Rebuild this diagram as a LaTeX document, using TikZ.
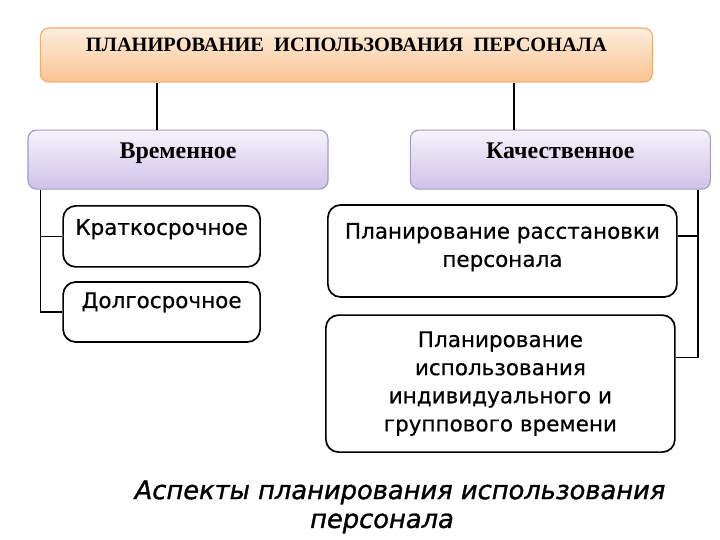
\documentclass[tikz,border=0pt]{standalone}
\usepackage{fontspec}
\setmainfont{Liberation Serif}
\newfontfamily\itemfont[FakeBold=0.5]{DejaVu Sans}
\newfontfamily\capfont[FakeBold=1.2]{DejaVu Sans}
\usetikzlibrary{positioning}
\definecolor{peachtop}{RGB}{253,237,220}
\definecolor{peachbot}{RGB}{250,196,146}
\definecolor{peachline}{RGB}{238,172,112}
\definecolor{lilactop}{RGB}{246,243,251}
\definecolor{lilacbot}{RGB}{206,194,232}
\definecolor{lilacline}{RGB}{165,154,198}
\tikzset{
  topbox/.style={draw=peachline, line width=0.8pt, rounded corners=6pt,
    top color=peachtop, bottom color=peachbot, inner sep=0pt,
    font=\bfseries\fontsize{14.5}{16}\selectfont},
  catbox/.style={draw=lilacline, line width=0.8pt, rounded corners=6pt,
    top color=lilactop, bottom color=lilacbot, inner sep=0pt,
    minimum width=7.5cm, font=\bfseries\fontsize{17}{19}\selectfont},
  itembox/.style={draw, line width=1.2pt, rounded corners=9pt, inner sep=0pt,
    align=center, font=\itemfont\fontsize{15.3}{20}\selectfont},
  link/.style={line width=0.8pt}
}
\begin{document}
\begin{tikzpicture}
  \useasboundingbox (0,0) rectangle (18,13.5);
  % Header
  \node[topbox, minimum width=15.3cm, text height=0.6cm, text depth=0.75cm]
    (plan) at (8.66,12.125) {ПЛАНИРОВАНИЕ \ ИСПОЛЬЗОВАНИЯ \ ПЕРСОНАЛА};
  % Two kinds of planning
  \node[catbox, text height=0.7cm, text depth=0.775cm] (vrem) at (4.45,9.51) {Временное};
  \node[catbox, text height=0.7cm, text depth=0.775cm] (kach) at (14.01,9.51) {Качественное};
  % Time-based items
  \node[itembox, minimum width=4.925cm, text height=0.725cm, text depth=0.8cm]
    (krat) at (4.04,7.59) {Краткосрочное};
  \node[itembox, minimum width=4.925cm, text height=0.65cm, text depth=0.85cm]
    (dolg) at (4.04,5.70) {Долгосрочное};
  % Quality items
  \node[itembox, minimum width=8.725cm, minimum height=2.3cm]
    (rasst) at (12.56,7.225) {Планирование расстановки\\персонала\\[-0.4cm]\mbox{}};
  \node[itembox, minimum width=8.725cm, minimum height=3.425cm]
    (ispol) at (12.51,3.91) {Планирование\\использования\\индивидуального и\\группового времени};
  % Connectors
  \draw[link] ([xshift=-0.525cm]vrem.north) -- ([xshift=-0.525cm]vrem.north |- plan.south);
  \draw[link] ([xshift=-1.16cm]kach.north) -- ([xshift=-1.16cm]kach.north |- plan.south);
  \draw[link] ([xshift=0.325cm]vrem.south west) |- (dolg.west);
  \draw[link] (krat.west) -| ([xshift=0.325cm]vrem.south west);
  \draw[link] ([xshift=-0.325cm]kach.south east) |- ([yshift=0.66cm]ispol.east);
  \draw[link] ([yshift=0.375cm]rasst.east) -| ([xshift=-0.325cm]kach.south east);
  % Caption
  \node[align=center, font=\capfont\itshape\fontsize{18.3}{20.5}\selectfont]
    (caption) at (10,0.83) {Аспекты планирования использования\\персонала\hspace*{0.9cm}};
\end{tikzpicture}
\end{document}
